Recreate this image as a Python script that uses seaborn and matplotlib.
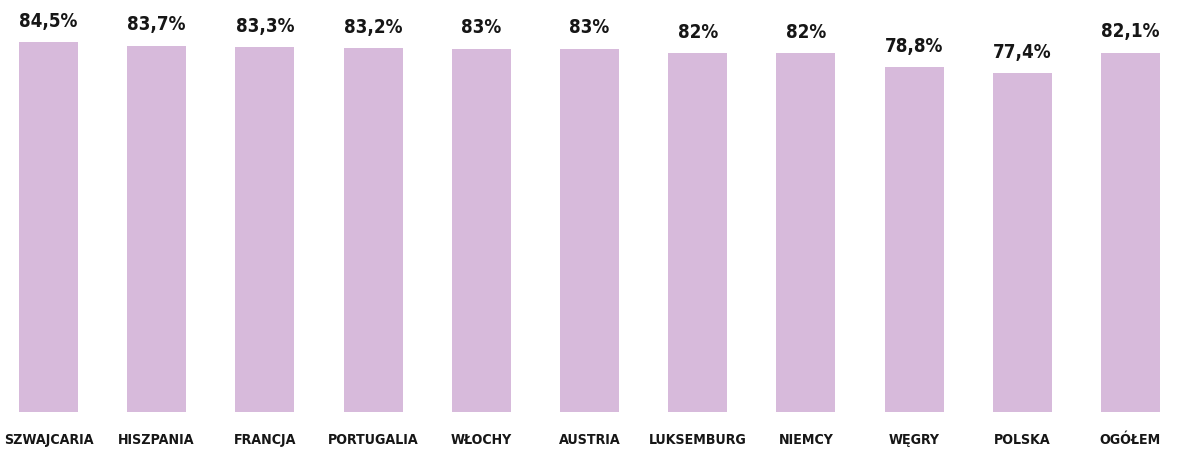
import matplotlib
matplotlib.use("Agg")
import matplotlib.pyplot as plt
import seaborn as sns

countries = ["SZWAJCARIA", "HISZPANIA", "FRANCJA", "PORTUGALIA", "WŁOCHY", "AUSTRIA",
             "LUKSEMBURG", "NIEMCY", "WĘGRY", "POLSKA", "OGÓŁEM"]
values = [84.5, 83.7, 83.3, 83.2, 83.0, 83.0, 82.0, 82.0, 78.8, 77.4, 82.1]

sns.set_style("white")
plt.rcParams['font.family'] = ['DejaVu Sans']
plt.rcParams['font.stretch'] = 'condensed'

fig = plt.figure(figsize=(11.94, 4.5), dpi=100)
ax = fig.add_axes([0, 38 / 450, 1, 412 / 450])

sns.barplot(x=countries, y=values, color="#d7badb", saturation=1, width=0.545,
            linewidth=0, ax=ax)

ax.set_xlim(-0.448, 10.587)
ax.set_ylim(0, 94.1)

labels = [f"{v:g}".replace(".", ",") + "%" for v in values]
ax.bar_label(ax.containers[0], labels=labels, padding=8, fontsize=13.5, fontweight="bold",
             fontstretch="condensed", color="#161616")

ax.tick_params(axis="x", length=0, pad=15, labelsize=10.2, labelcolor="#161616")
for t in ax.get_xticklabels():
    t.set_fontweight("bold")
    t.set_fontstretch("condensed")
ax.set_yticks([])
ax.set_ylabel("")
sns.despine(ax=ax, left=True, bottom=True)

fig.savefig("out.png", dpi=100)
